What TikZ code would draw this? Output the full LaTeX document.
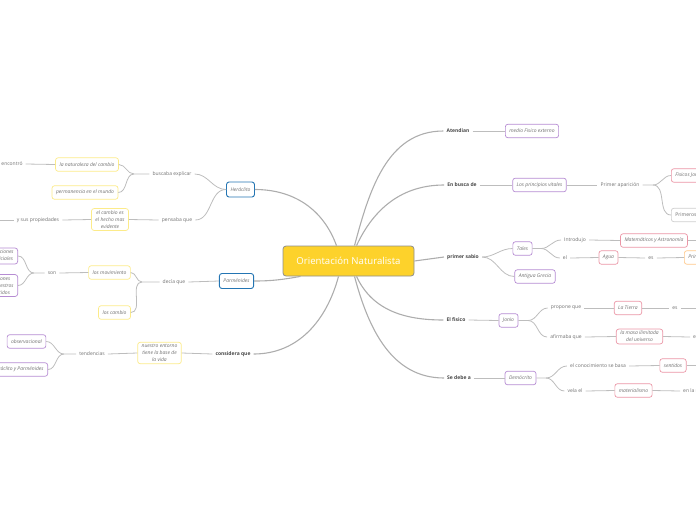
\documentclass[tikz,border=0pt]{standalone}
\usepackage{fontspec}
\setmainfont{Open Sans}
\definecolor{lineg}{HTML}{BDBDBD}
\definecolor{mlineg}{HTML}{ADADAD}
\definecolor{txtg}{HTML}{707070}
\definecolor{darkt}{HTML}{474747}
\definecolor{cfill}{HTML}{FDD22B}
\definecolor{cbord}{HTML}{8E8E8E}
\definecolor{bluB}{HTML}{2475B3}
\definecolor{purB}{HTML}{B68CD3}
\definecolor{yelB}{HTML}{FCEB8A}
\definecolor{redB}{HTML}{EB96A6}
\definecolor{oraB}{HTML}{FFC98A}
\definecolor{gryB}{HTML}{CFCFCF}
\tikzset{
 base/.style={font=\fontsize{5}{6}\selectfont, text=txtg},
 lbl/.style={base, inner sep=3pt},
 mlbl/.style={lbl, font=\fontsize{5}{6}\selectfont\bfseries, text=darkt},
 box/.style={base, draw, rounded corners=2.5pt, line width=0.7pt, fill=white, inner xsep=4pt, inner ysep=2pt, minimum height=13.5pt, align=center, font=\fontsize{5}{7}\selectfont\itshape},
 pbox/.style={box, draw=purB},
 ybox/.style={box, draw=yelB},
 rbox/.style={box, draw=redB},
 bbox/.style={box, draw=bluB, minimum height=15pt, line width=0.9pt},
 obox/.style={box, draw=oraB},
 gbox/.style={box, draw=gryB, font=\fontsize{5}{6}\selectfont},
 conn/.style={draw=lineg, line width=0.8pt},
 mconn/.style={draw=mlineg, line width=1.1pt},
}
\begin{document}
\begin{tikzpicture}[x=1pt,y=-1pt]
\useasboundingbox (0,0) rectangle (696,520);
\clip (0,0) rectangle (696,520);
% central
\node[draw=cbord, line width=0.8pt, fill=cfill, rounded corners=3pt, minimum width=131pt, minimum height=30pt, text=white, font=\fontsize{9.6}{11}\selectfont] (C) at (348.5,261) {Orientación Naturalista};
% right main labels
\node[mlbl] (atend) at (458,131) {Atendian};
\node[mlbl] (busca) at (462,185) {En busca de};
\node[mlbl] (sabio) at (463,257) {primer sabio};
\node[mlbl] (fisico) at (456,320) {El fisico};
\node[mlbl] (debe) at (459,378) {Se debe a};
% right children
\node[pbox] (medio) at (532,131) {medio Fisico externo};
\node[pbox] (princ) at (539.5,185) {Los principios vitales};
\node[lbl] (aparic) at (620,185) {Primer aparición};
\node[rbox, anchor=west] (fisjo) at (671,175.5) {Fisicos Jonios};
\node[gbox, anchor=west] (prim) at (671,215) {Primeros filósofos};
\node[pbox] (tales) at (522.5,248.5) {Tales};
\node[pbox] (grecia) at (535,276.5) {Antigua Grecia};
\node[lbl] (introd) at (575,240) {Introdujo};
\node[rbox] (matem) at (654,240.5) {Matemáticos y Astronomía};
\node[lbl] (el) at (565,258) {el};
\node[rbox] (agua) at (608.5,257.5) {Agua};
\node[lbl] (es1) at (651,258) {es};
\node[obox, anchor=west] (princ2) at (684,257.5) {Principio};
\node[pbox] (jonio) at (508.5,320.5) {Jonio};
\node[lbl] (propone) at (566,308) {propone que};
\node[rbox] (tierra) at (628,308) {La Tierra};
\node[lbl] (es2) at (675,308) {es};
\node[lbl] (afirm) at (566,337) {afirmaba que};
\node[rbox] (masa) at (639.5,336.5) {la masa ilimitada\\del universo};
\node[lbl, anchor=west] (es3) at (690,337) {es};
\node[pbox] (demo) at (520.5,378) {Demócrito};
\node[lbl] (conoc) at (598,366) {el conocimiento se basa};
\node[rbox] (sent) at (673,365.5) {sentidos};
\node[lbl] (vela) at (575,391) {vela el};
\node[rbox] (mater) at (633.5,390.5) {materialismo};
\node[lbl, anchor=west] (enla) at (680,391) {en la materia};
\coordinate (eM) at (700,240.5);
\coordinate (eT) at (700,308);
\coordinate (eS) at (700,365.5);
% left
\node[bbox] (her) at (240.5,189.5) {Heráclito};
\node[lbl] (busc) at (172,174) {buscaba explicar};
\node[ybox] (natu) at (87,164.5) {la naturaleza del cambio};
\node[lbl] (enc) at (12,164) {encontró};
\node[ybox] (perm) at (85,192.5) {permanencia en el mundo};
\node[lbl] (pensa) at (177,220) {pensaba que};
\node[ybox] (camb) at (110,219.5) {el cambio es\\el hecho mas\\evidente};
\node[lbl] (props) at (38,220) {y sus propiedades};
\coordinate (eP) at (-4,220);
\node[bbox] (par) at (236.5,281) {Parménides};
\node[lbl] (decia) at (174,282) {decía que};
\node[ybox] (movi) at (109.5,272.5) {los movimiento};
\node[lbl] (son) at (52,273) {son};
\node[pbox, anchor=east] (perc) at (18,256) {Percepciones\\superficiales};
\node[pbox, anchor=east] (ilus) at (18,285.5) {ilusiones\\de nuestros\\sentidos};
\node[ybox] (loscamb) at (114.5,312.5) {los cambio};
\node[mlbl] (cons) at (233,354) {considera que};
\node[ybox] (entorno) at (159.5,353) {nuestro entorno\\tiene la base de\\la vida};
\node[lbl] (tend) at (92,354) {tendencias};
\node[pbox] (obs) at (26.5,341.5) {observacional};
\node[pbox, anchor=east] (herpar) at (48,369.5) {Heráclito y Parménides};
% junctions
\coordinate (jA) at (653,185);
\coordinate (jT) at (541,248.5);
\coordinate (jJ) at (528,320.5);
\coordinate (jD) at (546,378);
\coordinate (jB) at (134,174);
\coordinate (jDe) at (142,282);
\coordinate (jS) at (34,273);
\coordinate (jTe) at (64,354);
\begin{scope}[mconn]
\draw ([xshift=6pt]C.north) to[out=75,in=180] (atend.west);
\draw ([xshift=8pt]C.north) to[out=65,in=180] (busca.west);
\draw (C.east) -- (sabio.west);
\draw ([xshift=8pt]C.south) to[out=-65,in=180] (fisico.west);
\draw ([xshift=6pt]C.south) to[out=-75,in=180] (debe.west);
\draw ([xshift=-12pt]C.north) to[out=110,in=0] (her.east);
\draw ([xshift=-48pt]C.south) to[out=190,in=0] (par.east);
\draw ([xshift=-10pt]C.south) to[out=-105,in=0] (cons.east);
\end{scope}
\begin{scope}[conn]
% right
\draw (atend.east) -- (medio.west);
\draw (busca.east) -- (princ.west);
\draw (princ.east) -- (aparic.west);
\draw (aparic.east) -- (jA) to[out=0,in=180] (fisjo.west);
\draw (jA) to[out=0,in=180] (prim.west);
\draw (sabio.east) to[out=0,in=180] (tales.west);
\draw (sabio.east) to[out=0,in=180] (grecia.west);
\draw (tales.east) -- (jT) to[out=0,in=180] (introd.west);
\draw (jT) to[out=0,in=180] (el.west);
\draw (introd.east) -- (matem.west);
\draw (matem.east) -- (eM);
\draw (el.east) -- (agua.west);
\draw (agua.east) -- (es1.west);
\draw (es1.east) -- (princ2.west);
\draw (fisico.east) -- (jonio.west);
\draw (jonio.east) -- (jJ) to[out=0,in=180] (propone.west);
\draw (jJ) to[out=0,in=180] (afirm.west);
\draw (propone.east) -- (tierra.west);
\draw (tierra.east) -- (es2.west);
\draw (es2.east) -- (eT);
\draw (afirm.east) -- (masa.west);
\draw (masa.east) -- (es3.west);
\draw (debe.east) -- (demo.west);
\draw (demo.east) -- (jD) to[out=0,in=180] (conoc.west);
\draw (jD) to[out=0,in=180] (vela.west);
\draw (conoc.east) -- (sent.west);
\draw (sent.east) -- (eS);
\draw (vela.east) -- (mater.west);
\draw (mater.east) -- (enla.west);
% left
\draw (her.west) to[out=180,in=0] (busc.east);
\draw (her.west) to[out=180,in=0] (pensa.east);
\draw (busc.west) -- (jB) to[out=180,in=0] (natu.east);
\draw (jB) to[out=180,in=0] (perm.east);
\draw (natu.west) -- (enc.east);
\draw (pensa.west) -- (camb.east);
\draw (camb.west) -- (props.east);
\draw (props.west) -- (eP);
\draw (par.west) -- (decia.east);
\draw (decia.west) -- (jDe) to[out=180,in=0] (movi.east);
\draw (jDe) to[out=180,in=0] (loscamb.east);
\draw (movi.west) -- (son.east);
\draw (son.west) -- (jS) to[out=180,in=0] (perc.east);
\draw (jS) to[out=180,in=0] (ilus.east);
\draw (cons.west) -- (entorno.east);
\draw (entorno.west) -- (tend.east);
\draw (tend.west) -- (jTe) to[out=180,in=0] (obs.east);
\draw (jTe) to[out=180,in=0] (herpar.east);
\end{scope}
\end{tikzpicture}
\end{document}
